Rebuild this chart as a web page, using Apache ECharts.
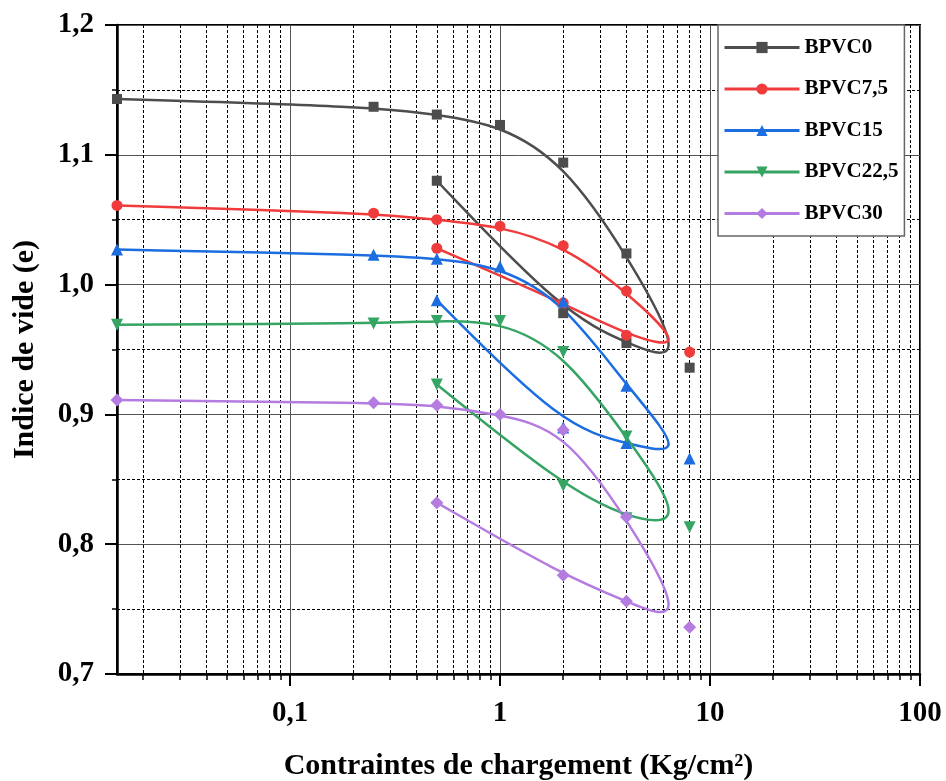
<!DOCTYPE html>
<html>
<head>
<meta charset="utf-8">
<script src="https://cdn.jsdelivr.net/npm/echarts@6/dist/echarts.min.js"></script>
<style>
  html, body { margin: 0; padding: 0; background: #ffffff; }
  #chart { width: 946px; height: 781px; }
</style>
</head>
<body>
<div id="chart"></div>
<script>
// Oedometer test: void ratio e versus applied stress (loading then unloading)
const stressLoading = [0.015, 0.25, 0.5, 1, 2, 4, 8];
const stressUnloading = [4, 2, 0.5];

const sampleNames = ['BPVC0', 'BPVC7,5', 'BPVC15', 'BPVC22,5', 'BPVC30'];

const eLoadBPVC0 = [1.143, 1.137, 1.131, 1.123, 1.094, 1.024, 0.936];
const eUnloadBPVC0 = [0.955, 0.978, 1.080];

const eLoadBPVC75 = [1.061, 1.055, 1.050, 1.045, 1.030, 0.995, 0.948];
const eUnloadBPVC75 = [0.961, 0.986, 1.028];

const eLoadBPVC15 = [1.027, 1.023, 1.020, 1.014, 0.987, 0.922, 0.866];
const eUnloadBPVC15 = [0.878, 0.890, 0.988];

const eLoadBPVC225 = [0.969, 0.970, 0.972, 0.972, 0.948, 0.883, 0.813];
const eUnloadBPVC225 = [0.820, 0.845, 0.923];

const eLoadBPVC30 = [0.911, 0.909, 0.907, 0.900, 0.888, 0.821, 0.736];
const eUnloadBPVC30 = [0.756, 0.776, 0.832];

// Axis ticks
const xMajorTicks = [0.1, 1, 10, 100];
const xMinorTicks = [0.02, 0.03, 0.04, 0.05, 0.06, 0.07, 0.08, 0.09,
                     0.2, 0.3, 0.4, 0.5, 0.6, 0.7, 0.8, 0.9,
                     2, 3, 4, 5, 6, 7, 8, 9,
                     20, 30, 40, 50, 60, 70, 80, 90];

// Styling
const seriesColors = ['#4d4d4d', '#ef3b3b', '#1c6ee0', '#36a564', '#b47be0'];
const seriesSymbols = ['rect', 'circle', 'triangle', 'triangle', 'diamond'];
const symbolRotations = [0, 0, 0, 180, 0];
const symbolSizes = [10, 11, 12, 12, 13];
const FONT = '"Liberation Serif", "Times New Roman", serif';

const loadSets = [eLoadBPVC0, eLoadBPVC75, eLoadBPVC15, eLoadBPVC225, eLoadBPVC30];
const unloadSets = [eUnloadBPVC0, eUnloadBPVC75, eUnloadBPVC15, eUnloadBPVC225, eUnloadBPVC30];

// loading points followed by unloading points, in test order
function testPath(i) {
  const pts = stressLoading.map((s, k) => [s, loadSets[i][k]]);
  stressUnloading.forEach((s, k) => pts.push([s, unloadSets[i][k]]));
  return pts;
}

// Uniform cubic B-spline (end points clamped) as an SVG path, in pixel space
function bsplinePathData(px) {
  const q = [px[0], px[0]].concat(px, [px[px.length - 1], px[px.length - 1]]);
  let d = '';
  for (let i = 0; i + 3 < q.length; i++) {
    const a = q[i], b = q[i + 1], c = q[i + 2], e = q[i + 3];
    const b0 = [(a[0] + 4 * b[0] + c[0]) / 6, (a[1] + 4 * b[1] + c[1]) / 6];
    const b1 = [(2 * b[0] + c[0]) / 3, (2 * b[1] + c[1]) / 3];
    const b2 = [(b[0] + 2 * c[0]) / 3, (b[1] + 2 * c[1]) / 3];
    const b3 = [(b[0] + 4 * c[0] + e[0]) / 6, (b[1] + 4 * c[1] + e[1]) / 6];
    if (i === 0) d += 'M' + b0[0] + ' ' + b0[1];
    d += 'C' + b1[0] + ' ' + b1[1] + ' ' + b2[0] + ' ' + b2[1] + ' ' + b3[0] + ' ' + b3[1];
  }
  return d;
}

const series = [];
sampleNames.forEach((name, i) => {
  const pts = testPath(i);
  series.push({
    type: 'custom',
    name: name + ' courbe',
    xAxisIndex: 0,
    yAxisIndex: 0,
    data: pts,
    encode: { x: 0, y: 1 },
    silent: true,
    renderItem: function (params, api) {
      if (params.dataIndexInside !== 0) return null;
      const px = pts.map(p => api.coord(p));
      return {
        type: 'path',
        shape: { pathData: bsplinePathData(px) },
        style: { fill: 'none', stroke: seriesColors[i], lineWidth: 2.5, lineJoin: 'round', lineCap: 'round' }
      };
    }
  });
  series.push({
    type: 'line',
    name: name,
    xAxisIndex: 0,
    yAxisIndex: 0,
    data: pts,
    symbol: seriesSymbols[i],
    symbolSize: symbolSizes[i],
    symbolRotate: symbolRotations[i],
    showSymbol: true,
    showAllSymbol: true,
    clip: false,
    color: seriesColors[i],
    itemStyle: { color: seriesColors[i] },
    lineStyle: { width: 0, color: seriesColors[i] },
    emphasis: { disabled: true }
  });
});

const chart = echarts.init(document.getElementById('chart'), null, { renderer: 'canvas' });
chart.setOption({
  animation: false,
  backgroundColor: '#ffffff',
  grid: {
    left: 117, right: 26, top: 25, bottom: 107,
    outerBoundsMode: 'none',
    containLabel: false,
    show: true, borderColor: '#000', borderWidth: 2, backgroundColor: 'transparent'
  },
  legend: {
    data: sampleNames,
    orient: 'vertical',
    left: 718, top: 25,
    padding: [12, 6, 12, 5],
    itemWidth: 75, itemHeight: 14, itemGap: 20.5,
    backgroundColor: '#ffffff',
    borderColor: '#666666', borderWidth: 1.5,
    lineStyle: { width: 3 },
    textStyle: { fontFamily: FONT, fontWeight: 'bold', fontSize: 21, color: '#000', padding: [8, 0, 0, 0] }
  },
  xAxis: [
    {
      type: 'log', logBase: 10, min: 0.015, max: 100,
      position: 'bottom',
      name: 'Contraintes de chargement (Kg/cm²)',
      nameLocation: 'middle', nameGap: 77,
      nameTextStyle: { fontFamily: FONT, fontWeight: 'bold', fontSize: 30, color: '#000' },
      axisLine: { show: true, lineStyle: { color: '#000', width: 2.5 } },
      axisTick: { show: true, inside: false, length: 12, customValues: xMajorTicks, lineStyle: { color: '#000', width: 2 } },
      axisLabel: {
        customValues: xMajorTicks, margin: 25,
        fontFamily: FONT, fontWeight: 'bold', fontSize: 29, color: '#000',
        formatter: v => String(v).replace('.', ',')
      },
      splitLine: { show: true, lineStyle: { color: '#555', width: 1, type: 'solid' } },
      minorTick: { show: false }
    },
    {
      type: 'log', logBase: 10, min: 0.015, max: 100,
      position: 'bottom',
      axisLine: { show: false },
      axisTick: { show: true, inside: false, length: 6, customValues: xMinorTicks, lineStyle: { color: '#000', width: 1.5 } },
      axisLabel: { show: false },
      splitLine: { show: true, lineStyle: { color: '#000', width: 1, type: [3, 2] } }
    }
  ],
  yAxis: {
    type: 'value', min: 0.7, max: 1.2, interval: 0.1,
    name: 'Indice de vide (e)',
    nameLocation: 'middle', nameGap: 77,
    nameTextStyle: { fontFamily: FONT, fontWeight: 'bold', fontSize: 30, color: '#000' },
    axisLine: { show: true, lineStyle: { color: '#000', width: 2.5 } },
    axisTick: { show: true, inside: false, length: 12, lineStyle: { color: '#000', width: 2 } },
    minorTick: { show: true, splitNumber: 2, length: 5, lineStyle: { color: '#000', width: 1.5 } },
    axisLabel: {
      margin: 23,
      fontFamily: FONT, fontWeight: 'bold', fontSize: 29, color: '#000',
      formatter: v => v.toFixed(1).replace('.', ',')
    },
    splitLine: { show: true, lineStyle: { color: '#555', width: 1 } },
    minorSplitLine: { show: true, lineStyle: { color: '#000', width: 1, type: [3, 2] } }
  },
  series: series
});
</script>
</body>
</html>
